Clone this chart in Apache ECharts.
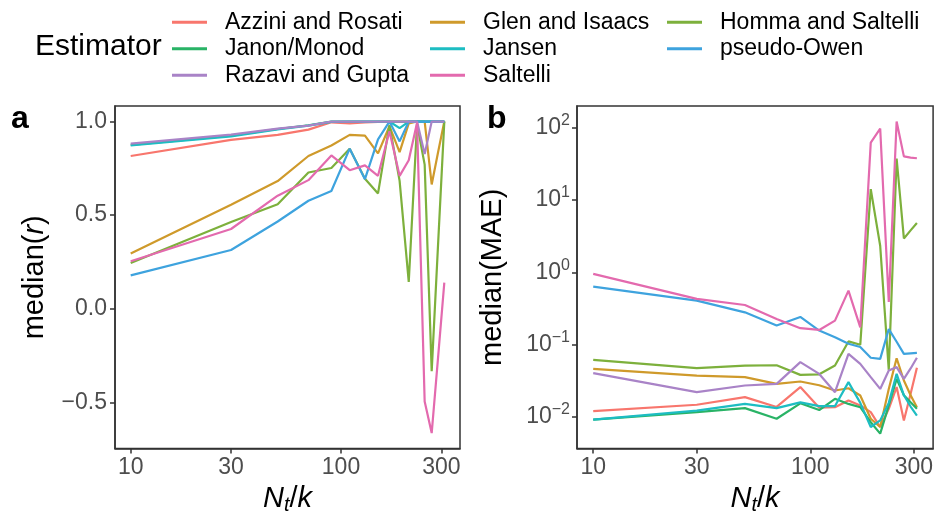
<!DOCTYPE html>
<html>
<head>
<meta charset="utf-8">
<script src="https://cdn.jsdelivr.net/npm/echarts@6.0.0/dist/echarts.min.js"></script>
<style>
  html, body { margin: 0; padding: 0; background: #fff; }
  #chart { width: 936px; height: 520px; }
</style>
</head>
<body>
<div id="chart"></div>
<script>
// N_t / k
var ratio = [10, 30, 50, 70, 90, 110, 130, 150, 170, 190, 210, 230, 250, 270, 290, 310];
var xTicks = [10, 30, 100, 300];

var estimators = ['Azzini and Rosati', 'Glen and Isaacs', 'Homma and Saltelli', 'Janon/Monod',
                  'Jansen', 'pseudo-Owen', 'Razavi and Gupta', 'Saltelli'];
var colors = ['#F8766D', '#CF9A2B', '#7DB03C', '#29B366', '#1DBDC2', '#3EA3DE', '#A983C7', '#E36AAE'];

// panel a: median(r)
var rAzzini  = [0.816, 0.902, 0.929, 0.957, 0.996, 0.99, 0.995, 0.998, 1.0, 1.0, 1.0, 1.0, 1.0, 1.0, 1.0, 1.0];
var rGlen    = [0.295, 0.555, 0.682, 0.816, 0.872, 0.929, 0.925, 0.83, 0.975, 0.837, 0.99, 1.0, 1.0, 0.664, 0.84, 1.0];
var rHomma   = [0.244, 0.463, 0.558, 0.728, 0.752, 0.855, 0.694, 0.616, 0.982, 0.683, 0.143, 0.987, 0.77, -0.333, 0.36, 1.0];
var rJanon   = [0.875, 0.925, 0.96, 0.98, 1.0, 1.0, 1.0, 1.0, 1.0, 1.0, 1.0, 1.0, 1.0, 1.0, 1.0, 1.0];
var rJansen  = [0.872, 0.92, 0.958, 0.978, 0.998, 1.0, 1.0, 1.0, 1.0, 0.965, 1.0, 1.0, 1.0, 1.0, 1.0, 1.0];
var rOwen    = [0.178, 0.314, 0.466, 0.577, 0.629, 0.855, 0.692, 0.905, 1.0, 0.894, 1.0, 1.0, 1.0, 1.0, 1.0, 1.0];
var rRazavi  = [0.882, 0.93, 0.962, 0.978, 1.0, 1.0, 1.0, 1.0, 1.0, 1.0, 1.0, 1.0, 0.826, 1.0, 1.0, 1.0];
var rSaltelli = [0.254, 0.426, 0.604, 0.687, 0.819, 0.74, 0.766, 0.71, 0.948, 0.71, 0.793, 0.993, -0.496, -0.664, -0.25, 0.14];
var rTicks = [-0.5, 0, 0.5, 1];

// panel b: median(MAE)
var maeAzzini  = [0.0121, 0.0148, 0.0189, 0.0138, 0.026, 0.0135, 0.0137, 0.017, 0.0145, 0.0117, 0.0073, 0.013, 0.026, 0.009, 0.021, 0.048];
var maeGlen    = [0.0464, 0.0375, 0.0356, 0.0288, 0.031, 0.0275, 0.0233, 0.025, 0.0199, 0.0095, 0.0073, 0.0245, 0.065, 0.032, 0.02, 0.0137];
var maeHomma   = [0.0617, 0.0474, 0.0515, 0.052, 0.0383, 0.039, 0.0515, 0.111, 0.1, 14.1, 2.33, 0.045, 37.4, 2.94, 3.8, 4.79];
var maeJanon   = [0.0092, 0.0117, 0.0133, 0.0095, 0.0155, 0.0125, 0.0179, 0.0152, 0.0137, 0.0085, 0.0059, 0.0145, 0.0337, 0.02, 0.016, 0.013];
var maeJansen  = [0.0092, 0.0123, 0.0152, 0.0133, 0.016, 0.0142, 0.0142, 0.0304, 0.0157, 0.0073, 0.009, 0.0157, 0.0395, 0.02, 0.014, 0.0105];
var maeOwen    = [0.633, 0.406, 0.28, 0.184, 0.242, 0.157, 0.127, 0.103, 0.093, 0.066, 0.0637, 0.164, 0.11, 0.0746, 0.076, 0.077];
var maeRazavi  = [0.0405, 0.0221, 0.0273, 0.0288, 0.0574, 0.0395, 0.0221, 0.0746, 0.0543, 0.0356, 0.0245, 0.044, 0.049, 0.0337, 0.047, 0.066];
var maeSaltelli = [0.95, 0.43, 0.354, 0.227, 0.169, 0.16, 0.215, 0.558, 0.174, 62, 97, 0.39, 121, 40, 38.5, 37.7];
var maeTicks = [0.01, 0.1, 1, 10, 100];

var rAll = [rAzzini, rGlen, rHomma, rJanon, rJansen, rOwen, rRazavi, rSaltelli];
var maeAll = [maeAzzini, maeGlen, maeHomma, maeJanon, maeJansen, maeOwen, maeRazavi, maeSaltelli];

var FONT = '"Liberation Sans", Arial, sans-serif';
var TICK = '#4D4D4D';
var INK = '#333333';

var chart = echarts.init(document.getElementById('chart'));

function xAxis(idx) {
  return {
    type: 'log', logBase: 10, gridIndex: idx,
    min: 8.42, max: 368.1,
    axisLine: { show: true, onZero: false, lineStyle: { color: INK, width: 1.5 } },
    splitLine: { show: false },
    axisTick: { show: true, length: 5, customValues: xTicks, lineStyle: { color: INK, width: 1.5 } },
    axisLabel: {
      customValues: xTicks, margin: 8, fontSize: 23, color: TICK, fontFamily: FONT,
      formatter: function (v) { return String(Math.round(v)); }
    },
    name: '{i|N}{s|t}{n|/}{i|k}',
    nameLocation: 'middle', nameGap: 34,
    nameTextStyle: {
      fontFamily: FONT, fontSize: 29, color: '#000',
      rich: {
        i: { fontFamily: FONT, fontSize: 29, fontStyle: 'italic', color: '#000', lineHeight: 32 },
        n: { fontFamily: FONT, fontSize: 29, color: '#000', lineHeight: 32 },
        s: { fontFamily: FONT, fontSize: 20, fontStyle: 'italic', color: '#000', lineHeight: 18, verticalAlign: 'bottom' }
      }
    }
  };
}

function legendCol(left, names) {
  return {
    orient: 'vertical', left: left, top: 9, padding: 0, itemGap: 0,
    itemWidth: 35, itemHeight: 3, icon: 'rect', selectedMode: false,
    data: names,
    textStyle: { fontFamily: FONT, fontSize: 23, color: '#000', lineHeight: 26.5, padding: [0, 0, 0, 13] }
  };
}

var series = [];
estimators.forEach(function (name, k) {
  series.push({
    type: 'line', name: name, xAxisIndex: 0, yAxisIndex: 0,
    data: ratio.map(function (n, i) { return [n, rAll[k][i]]; }),
    symbol: 'none', lineStyle: { width: 2.2, color: colors[k] }, itemStyle: { color: colors[k] }
  });
});
estimators.forEach(function (name, k) {
  series.push({
    type: 'line', name: name, xAxisIndex: 1, yAxisIndex: 1,
    data: ratio.map(function (n, i) { return [n, maeAll[k][i]]; }),
    symbol: 'none', lineStyle: { width: 2.2, color: colors[k] }, itemStyle: { color: colors[k] }
  });
});

chart.setOption({
  animation: false,
  backgroundColor: '#fff',
  grid: [
    { left: 115, top: 106, width: 345, height: 344, show: true, borderColor: INK, borderWidth: 1.5, backgroundColor: 'transparent' },
    { left: 577, top: 106, width: 357, height: 344, show: true, borderColor: INK, borderWidth: 1.5, backgroundColor: 'transparent' }
  ],
  legend: [
    legendCol(172, ['Azzini and Rosati', 'Janon/Monod', 'Razavi and Gupta']),
    legendCol(430, ['Glen and Isaacs', 'Jansen', 'Saltelli']),
    legendCol(667, ['Homma and Saltelli', 'pseudo-Owen'])
  ],
  xAxis: [xAxis(0), xAxis(1)],
  yAxis: [
    {
      type: 'value', gridIndex: 0, min: -0.747, max: 1.083,
      axisLine: { show: true, onZero: false, lineStyle: { color: INK, width: 1.5 } },
      splitLine: { show: false },
      axisTick: { show: true, length: 5, customValues: rTicks, lineStyle: { color: INK, width: 1.5 } },
      axisLabel: {
        customValues: rTicks, margin: 8, fontSize: 23, color: TICK, fontFamily: FONT,
        formatter: function (v) { return (v < 0 ? '\u2212' : '') + Math.abs(v).toFixed(1); }
      },
      name: 'median({i|r})', nameLocation: 'middle', nameGap: 66, nameRotate: 90,
      nameTextStyle: {
        fontFamily: FONT, fontSize: 29, color: '#000',
        rich: { i: { fontFamily: FONT, fontSize: 29, fontStyle: 'italic', color: '#000' } }
      }
    },
    {
      type: 'log', logBase: 10, gridIndex: 1, min: 0.00367, max: 198.6,
      axisLine: { show: true, onZero: false, lineStyle: { color: INK, width: 1.5 } },
      splitLine: { show: false },
      axisTick: { show: true, length: 5, customValues: maeTicks, lineStyle: { color: INK, width: 1.5 } },
      axisLabel: {
        customValues: maeTicks, margin: 7, fontSize: 23, color: TICK, fontFamily: FONT,
        formatter: function (v) {
          var e = Math.round(Math.log(v) / Math.LN10);
          return '{b|10}{s|' + (e < 0 ? '\u2212' + (-e) : e) + '}';
        },
        rich: {
          b: { fontSize: 23, color: TICK, fontFamily: FONT, lineHeight: 30 },
          s: { fontSize: 16, color: TICK, fontFamily: FONT, lineHeight: 16, verticalAlign: 'top' }
        }
      },
      name: 'median(MAE)', nameLocation: 'middle', nameGap: 70, nameRotate: 90,
      nameTextStyle: { fontFamily: FONT, fontSize: 29, color: '#000' }
    }
  ],
  graphic: [
    { type: 'text', left: 35, top: 32, style: { text: 'Estimator', fontFamily: FONT, fontSize: 30, fill: '#000' } },
    { type: 'text', left: 11, top: 103, style: { text: 'a', fontFamily: FONT, fontSize: 32, fontWeight: 'bold', fill: '#000' } },
    { type: 'text', left: 487, top: 103, style: { text: 'b', fontFamily: FONT, fontSize: 32, fontWeight: 'bold', fill: '#000' } }
  ],
  series: series
});
</script>
</body>
</html>
